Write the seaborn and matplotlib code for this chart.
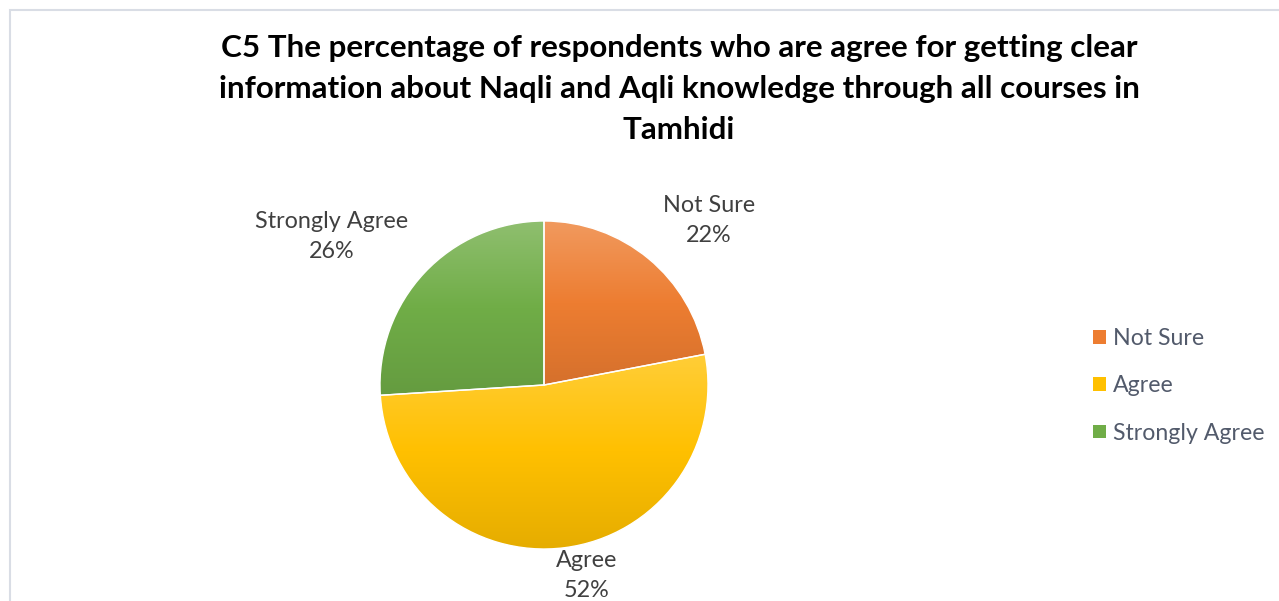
import numpy as np
import matplotlib
matplotlib.use("Agg")
import matplotlib.pyplot as plt
import seaborn as sns
from matplotlib.colors import LinearSegmentedColormap, to_rgb
from matplotlib.patches import Patch, Rectangle

categories = ["Not Sure", "Agree", "Strongly Agree"]
percentages = [22, 52, 26]
colors = ["#ED7D31", "#FFC000", "#70AD47"]
title = ("C5 The percentage of respondents who are agree for getting clear\n"
         "information about Naqli and Aqli knowledge through all courses in\n"
         "Tamhidi")

sns.set_theme(style="white")
plt.rcParams['font.family'] = ['Lato', 'DejaVu Sans']

W, H = 1279, 601
fig = plt.figure(figsize=(W / 100, H / 100), dpi=100)
ax = fig.add_axes([0, 0, 1, 1])

cx, cy, r = 544, H - 385, 164
wedges, _ = ax.pie(percentages, colors=colors, startangle=90, counterclock=False,
                   center=(cx, cy), radius=r,
                   wedgeprops=dict(edgecolor="white", linewidth=1))

# vertical gradient on each slice, lighter at the top
grad = np.linspace(0, 1, 256).reshape(-1, 1)
for w, c in zip(wedges, colors):
    base = np.array(to_rgb(c))
    light = base + (1 - base) * 0.22
    dark = base * 0.9
    cmap = LinearSegmentedColormap.from_list("g", [dark, base, light])
    ext = w.get_path().get_extents()
    im = ax.imshow(grad, extent=[ext.x0, ext.x1, ext.y0, ext.y1], origin="lower",
                   cmap=cmap, aspect="auto", zorder=w.get_zorder(), interpolation="bilinear")
    im.set_clip_path(w)
    w.set_facecolor("none")
    w.set_zorder(w.get_zorder() + 0.1)

# data labels (angle nudge in degrees, distance as a multiple of the radius)
label_tweaks = [(-5.4, 1.42), (5.3, 1.19), (8.2, 1.58)]
cum = 0
for cat, p, (da, f) in zip(categories, percentages, label_tweaks):
    mid = np.deg2rad(90 - 3.6 * (cum + p / 2) + da)
    cum += p
    ax.text(cx + f * r * np.cos(mid), cy + f * r * np.sin(mid), f"{cat}\n{p}%",
            ha="center", va="center", fontsize=16.8, color="#404040", linespacing=1.55)

ax.set_xlim(0, W)
ax.set_ylim(0, H)
ax.set_aspect("equal")
ax.axis("off")

ax.text(679, H - 89, title, ha="center", va="center", fontsize=22.6,
        fontweight="bold", color="#000000", linespacing=1.55)

handles = [Patch(facecolor=c, edgecolor="none") for c in colors]
leg = ax.legend(handles, categories, loc="center left",
                bbox_to_anchor=(1093 / W, (H - 386) / H),
                bbox_transform=fig.transFigure,
                frameon=False, fontsize=16.7, handlelength=0.55, handleheight=0.55,
                handletextpad=0.3, labelspacing=1.13, borderpad=0, borderaxespad=0)
for t in leg.get_texts():
    t.set_color("#525a6b")

fig.patches.append(Rectangle((10 / W, -0.1), 2, (H - 10) / H + 0.1,
                             transform=fig.transFigure, fill=False,
                             edgecolor="#D9DDE5", linewidth=1.5))

fig.savefig("out.png", dpi=100)
